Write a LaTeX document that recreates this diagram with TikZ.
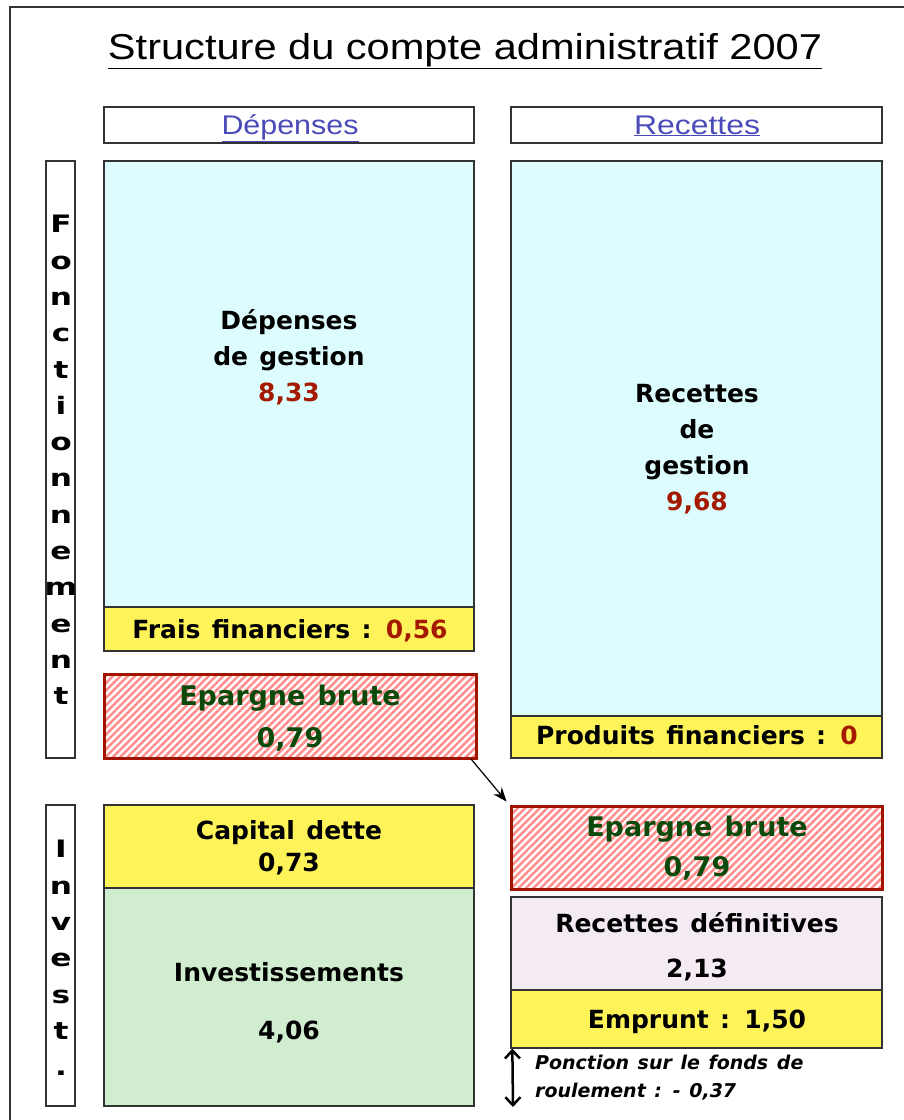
\documentclass[tikz,border=0pt]{standalone}
\usepackage{fontspec}
\usepackage{graphicx}
\usetikzlibrary{patterns.meta,arrows.meta}
\newfontfamily\bxfont{DejaVu Sans}[WordSpace=1.2]
\newfontfamily\vfont{DejaVu Sans}[FakeStretch=1.3]
\newfontfamily\tfont{Liberation Sans}
\newfontfamily\ifont{DejaVu Sans}[WordSpace=1.3]
\definecolor{cyanbg}{HTML}{DDFCFD}
\definecolor{yel}{HTML}{FEF45A}
\definecolor{grn}{HTML}{D0EECF}
\definecolor{lav}{HTML}{F4EAF4}
\definecolor{numred}{HTML}{A31A00}
\definecolor{epgreen}{HTML}{0B4A0B}
\definecolor{hdblue}{HTML}{4A4AB8}
\definecolor{epborder}{HTML}{A01400}
\definecolor{hatch}{HTML}{FF9090}
\definecolor{edge}{HTML}{333333}
\begin{document}
\begin{tikzpicture}[x=1pt,y=-1pt,
  cell/.style={draw=edge, line width=1.3pt, inner sep=0pt, rectangle},
  txt/.style={align=center, inner sep=0pt, text=black, font=\bxfont\bfseries\fontsize{25}{36}\selectfont},
  eptxt/.style={align=center, inner sep=0pt, text=epgreen, font=\bxfont\bfseries\fontsize{27}{42}\selectfont},
  hatched/.style={draw=epborder, line width=3pt, inner sep=0pt, rectangle,
     pattern={Lines[angle=45,distance=5.2pt,line width=2.6pt]}, pattern color=hatch},
  vlab/.style={align=center, inner sep=0pt, font=\vfont\bfseries\fontsize{24}{36.3}\selectfont},
  hdtxt/.style={inner sep=0pt, text=hdblue, font=\tfont\fontsize{27}{30}\selectfont}
]
\useasboundingbox (0,0) rectangle (903,1120);
% outer frame
\coordinate (fbl) at (10,1125);
\coordinate (ftl) at (10,7);
\coordinate (ftr) at (910,7);
\draw[line width=1.2pt, edge] (fbl) -- (ftl) -- (ftr);
% title
\node[inner sep=0pt, anchor=base] (title) at (465,59) {\resizebox{714pt}{\height}{\tfont\fontsize{36}{40}\selectfont\underline{Structure du compte administratif 2007}}};
% headers
\node[cell, minimum width=370pt, minimum height=36pt] (depH) at (289,125) {};
\node[hdtxt, anchor=base] (depHt) at (290,134) {\resizebox{137pt}{\height}{\underline{Dépenses}}};
\node[cell, minimum width=371pt, minimum height=36pt] (recH) at (696.5,125) {};
\node[hdtxt, anchor=base] (recHt) at (697,134) {\resizebox{126pt}{\height}{\underline{Recettes}}};
% vertical labels
\node[cell, minimum width=29pt, minimum height=597pt] (fonc) at (60.5,459.5) {};
\node[vlab] (foncT) at (61,460) {F\\o\\n\\c\\t\\i\\o\\n\\n\\e\\m\\e\\n\\t};
\node[cell, minimum width=29pt, minimum height=301pt] (inv) at (60.5,955.5) {};
\node[vlab] (invT) at (61,958) {I\\n\\v\\e\\s\\t\\.};
% left column
\node[cell, fill=cyanbg, minimum width=370pt, minimum height=446pt] (dg) at (289,384) {};
\node[txt] (dgT) at (289,357) {Dépenses\\de gestion\\\textcolor{numred}{8,33}};
\node[cell, fill=yel, minimum width=370pt, minimum height=44pt] (ff) at (289,629) {};
\node[txt] (ffT) at (290,631) {Frais financiers : \textcolor{numred}{0,56}};
\node[hatched, minimum width=372pt, minimum height=84pt] (epL) at (290,716) {};
\node[eptxt] (epLT) at (290,718) {Epargne brute\\0,79};
\node[cell, fill=yel, minimum width=370pt, minimum height=83pt] (cd) at (289,846.5) {};
\node[txt, font=\bxfont\bfseries\fontsize{25}{32}\selectfont] (cdT) at (289,848) {Capital dette\\0,73};
\node[cell, fill=grn, minimum width=370pt, minimum height=218pt] (iv) at (289,997) {};
\node[txt, font=\bxfont\bfseries\fontsize{25}{58}\selectfont] (ivT) at (289,1003) {Investissements\\4,06};
% right column
\node[cell, fill=cyanbg, minimum width=371pt, minimum height=555pt] (rg) at (696.5,438.5) {};
\node[txt] (rgT) at (697,449) {Recettes\\de\\gestion\\\textcolor{numred}{9,68}};
\node[cell, fill=yel, minimum width=371pt, minimum height=42pt] (pf) at (696.5,737) {};
\node[txt] (pfT) at (697,735) {Produits financiers : \textcolor{numred}{0}};
\node[hatched, minimum width=371pt, minimum height=83pt] (epR) at (696.5,847.5) {};
\node[eptxt, font=\bxfont\bfseries\fontsize{27}{40}\selectfont] (epRT) at (697,848) {Epargne brute\\0,79};
\node[cell, fill=lav, minimum width=371pt, minimum height=93pt] (rd) at (696.5,943.5) {};
\node[txt, font=\bxfont\bfseries\fontsize{25}{45}\selectfont] (rdT) at (697,947) {Recettes définitives\\2,13};
\node[cell, fill=yel, minimum width=371pt, minimum height=58pt] (emp) at (696.5,1019) {};
\node[txt] (empT) at (697,1022) {Emprunt : 1,50};
% transfer arrow
\draw[line width=1.2pt, -{Stealth[length=14pt,width=11pt]}] ([xshift=-6pt]epL.south east) -- ([xshift=-3pt,yshift=3pt]epR.north west);
% ponction
\coordinate (pBot) at (513,1107);
\draw[line width=2.5pt, {Straight Barb[length=8pt,width=15pt]}-{Straight Barb[length=8pt,width=15pt]}] ([xshift=2pt]emp.south west) -- (pBot);
\node[anchor=west, align=left, inner sep=0pt, font=\ifont\bfseries\itshape\fontsize{19}{28}\selectfont] (pon) at (535,1078) {Ponction sur le fonds de\\roulement : - 0,37};
\end{tikzpicture}
\end{document}
